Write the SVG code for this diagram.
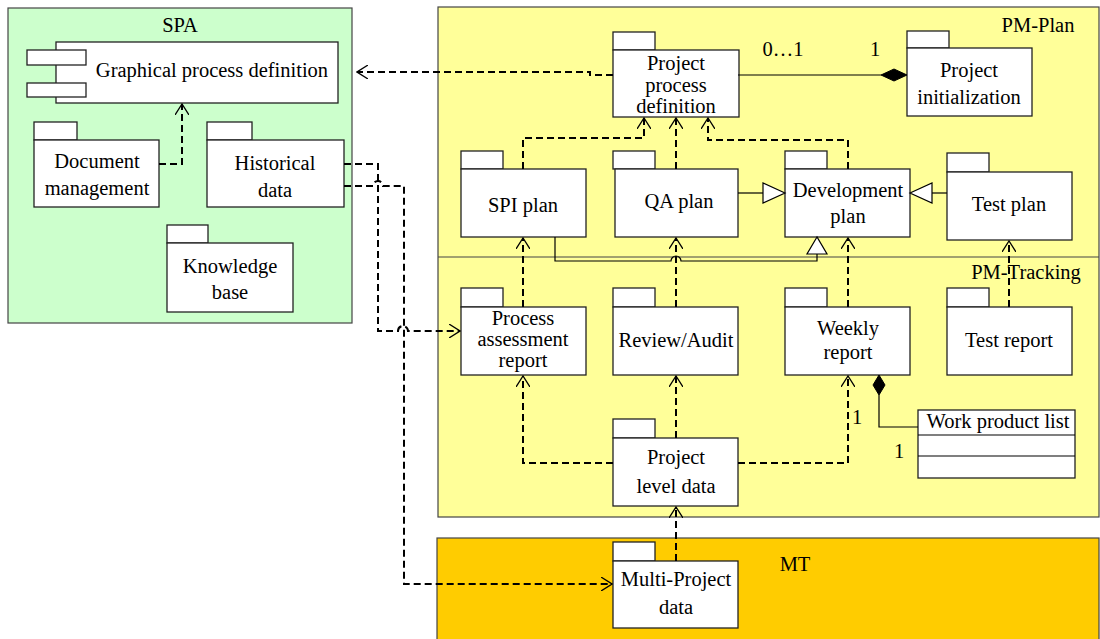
<svg xmlns="http://www.w3.org/2000/svg" width="1100" height="639" viewBox="0 0 1100 639">
  <style>
    text { font-family: "Liberation Serif", "Times New Roman", serif; font-size: 20.5px; fill: #000; text-anchor: middle; }
    .frame { stroke: #444; stroke-width: 1.2; }
    .box { fill: #fff; stroke: #222; stroke-width: 1.3; }
    .dep { fill: none; stroke: #000; stroke-width: 2; stroke-dasharray: 7,4; }
    .solid { fill: none; stroke: #000; stroke-width: 1.2; }
    .hollow { fill: #fff; stroke: #000; stroke-width: 1.2; }
    .filled { fill: #000; stroke: #000; stroke-width: 1; }
  </style>
  <defs>
    <marker id="open" viewBox="0 0 12 14" refX="11" refY="7" markerWidth="12" markerHeight="14" markerUnits="userSpaceOnUse" orient="auto">
      <path d="M0,0 L11,7 L0,14" fill="none" stroke="#000" stroke-width="1.3"/>
    </marker>
  </defs>

  <rect width="1100" height="639" fill="#fff"/>

  <!-- Package frames -->
  <g id="frame-spa">
    <rect class="frame" x="8" y="8" width="344" height="315" fill="#ccffcc"/>
    <text x="180" y="32">SPA</text>
  </g>
  <g id="frame-pm">
    <rect class="frame" x="438" y="7" width="661" height="510" fill="#ffff99"/>
    <line class="frame" x1="438" y1="257" x2="1099" y2="257"/>
    <text x="1038" y="32">PM-Plan</text>
    <text x="1026" y="279">PM-Tracking</text>
  </g>
  <g id="frame-mt">
    <rect class="frame" x="437" y="538" width="662" height="110" fill="#ffcc00"/>
    <text x="795" y="571">MT</text>
  </g>

  <!-- SPA nodes -->
  <g id="graphical-process-definition">
    <rect class="box" x="56" y="42" width="282" height="61"/>
    <rect class="box" x="27" y="50" width="59" height="15"/>
    <rect class="box" x="27" y="83" width="59" height="14"/>
    <text x="212" y="77">Graphical process definition</text>
  </g>
  <g id="document-management">
    <rect class="box" x="34" y="122" width="43" height="18"/>
    <rect class="box" x="34" y="140" width="125" height="67"/>
    <text x="97" y="168">Document</text>
    <text x="97" y="195">management</text>
  </g>
  <g id="historical-data">
    <rect class="box" x="207" y="122" width="45" height="18"/>
    <rect class="box" x="207" y="140" width="137" height="67"/>
    <text x="275" y="170">Historical</text>
    <text x="275" y="197">data</text>
  </g>
  <g id="knowledge-base">
    <rect class="box" x="167" y="225" width="41" height="18"/>
    <rect class="box" x="167" y="243" width="126" height="69"/>
    <text x="230" y="273">Knowledge</text>
    <text x="230" y="299">base</text>
  </g>

  <!-- PM-Plan nodes -->
  <g id="project-process-definition">
    <rect class="box" x="613" y="32" width="42" height="18"/>
    <rect class="box" x="613" y="50" width="126" height="67"/>
    <text x="676" y="70">Project</text>
    <text x="676" y="92">process</text>
    <text x="676" y="113">definition</text>
  </g>
  <g id="project-initialization">
    <rect class="box" x="907" y="31" width="42" height="17"/>
    <rect class="box" x="907" y="48" width="125" height="68"/>
    <text x="969" y="77">Project</text>
    <text x="969" y="104">initialization</text>
  </g>
  <g id="spi-plan">
    <rect class="box" x="461" y="151" width="42" height="18"/>
    <rect class="box" x="461" y="169" width="125" height="68"/>
    <text x="523" y="212">SPI plan</text>
  </g>
  <g id="qa-plan">
    <rect class="box" x="613" y="151" width="42" height="18"/>
    <rect class="box" x="615" y="169" width="123" height="68"/>
    <text x="679" y="208">QA plan</text>
  </g>
  <g id="development-plan">
    <rect class="box" x="785" y="151" width="42" height="18"/>
    <rect class="box" x="785" y="169" width="125" height="68"/>
    <text x="848" y="197">Development</text>
    <text x="848" y="223">plan</text>
  </g>
  <g id="test-plan">
    <rect class="box" x="947" y="153" width="42" height="19"/>
    <rect class="box" x="947" y="172" width="125" height="68"/>
    <text x="1009" y="211">Test plan</text>
  </g>

  <!-- PM-Tracking nodes -->
  <g id="process-assessment-report">
    <rect class="box" x="461" y="288" width="42" height="19"/>
    <rect class="box" x="461" y="307" width="125" height="68"/>
    <text x="523" y="325">Process</text>
    <text x="523" y="346">assessment</text>
    <text x="523" y="367">report</text>
  </g>
  <g id="review-audit">
    <rect class="box" x="613" y="288" width="42" height="19"/>
    <rect class="box" x="613" y="307" width="125" height="68"/>
    <text x="676" y="347">Review/Audit</text>
  </g>
  <g id="weekly-report">
    <rect class="box" x="785" y="288" width="42" height="19"/>
    <rect class="box" x="785" y="307" width="125" height="68"/>
    <text x="848" y="335">Weekly</text>
    <text x="848" y="359">report</text>
  </g>
  <g id="test-report">
    <rect class="box" x="947" y="288" width="42" height="19"/>
    <rect class="box" x="947" y="307" width="125" height="68"/>
    <text x="1009" y="347">Test report</text>
  </g>
  <g id="project-level-data">
    <rect class="box" x="613" y="419" width="42" height="19"/>
    <rect class="box" x="613" y="438" width="125" height="68"/>
    <text x="676" y="464">Project</text>
    <text x="676" y="493">level data</text>
  </g>
  <g id="work-product-list">
    <rect class="box" x="918" y="410" width="157" height="68"/>
    <line class="solid" x1="918" y1="435" x2="1075" y2="435"/>
    <line class="solid" x1="918" y1="456" x2="1075" y2="456"/>
    <text x="998" y="428">Work product list</text>
  </g>

  <!-- MT node -->
  <g id="multi-project-data">
    <rect class="box" x="613" y="542" width="42" height="19"/>
    <rect class="box" x="613" y="561" width="125" height="67"/>
    <text x="676" y="586">Multi-Project</text>
    <text x="676" y="614">data</text>
  </g>

  <!-- Connectors -->
  <g id="connectors">
    <!-- dependencies (dashed, open arrowheads) -->
    <path class="dep" d="M159,164 H182 V104" marker-end="url(#open)"/>
    <path class="dep" d="M613,75 H590 V72 H357" marker-end="url(#open)"/>
    <path class="dep" d="M523,169 V138 H644 V118" marker-end="url(#open)"/>
    <path class="dep" d="M676,169 V118" marker-end="url(#open)"/>
    <path class="dep" d="M848,169 V140 H708 V118" marker-end="url(#open)"/>
    <path class="dep" d="M523,307 V238" marker-end="url(#open)"/>
    <path class="dep" d="M676,307 V238" marker-end="url(#open)"/>
    <path class="dep" d="M848,307 V238" marker-end="url(#open)"/>
    <path class="dep" d="M1009,307 V241" marker-end="url(#open)"/>
    <path class="dep" d="M613,463 H523 V376" marker-end="url(#open)"/>
    <path class="dep" d="M676,438 V376" marker-end="url(#open)"/>
    <path class="dep" d="M738,463 H848 V376" marker-end="url(#open)"/>
    <path class="dep" d="M676,561 V507" marker-end="url(#open)"/>
    <path class="dep" d="M344,164 H378 V331 H398 a5,5 0 0 1 10,0 H460" marker-end="url(#open)"/>
    <path class="dep" d="M344,186 H373 a5,5 0 0 1 10,0 H404 V584 H612" marker-end="url(#open)"/>

    <!-- generalizations (solid, hollow triangles) -->
    <line class="solid" x1="738" y1="193" x2="763" y2="193"/>
    <path class="hollow" d="M785,193 L763,183 L763,203 Z"/>
    <line class="solid" x1="947" y1="193" x2="932" y2="193"/>
    <path class="hollow" d="M910,193 L932,183 L932,203 Z"/>
    <path class="solid" d="M555,237 V261 H671 a5,5 0 0 1 10,0 H817 V254"/>
    <path class="hollow" d="M817,237 L807,254 L827,254 Z"/>

    <!-- compositions (filled diamonds) -->
    <line class="solid" x1="738" y1="75" x2="881" y2="75"/>
    <path class="filled" d="M907,75 L894,69 L881,75 L894,81 Z"/>
    <text x="783" y="56">0…1</text>
    <text x="875" y="56">1</text>
    <path class="solid" d="M879,395 V427 H918"/>
    <path class="filled" d="M879,375 L885,385 L879,395 L873,385 Z"/>
    <text x="857" y="424">1</text>
    <text x="899" y="458">1</text>
  </g>
</svg>
